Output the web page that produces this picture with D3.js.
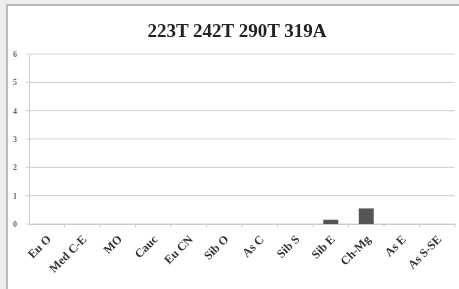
<!DOCTYPE html>
<html>
<head>
<meta charset="utf-8">
<script src="https://cdn.jsdelivr.net/npm/d3@7"></script>
<style>
  body { margin: 0; background: #fff; }
  svg { display: block; filter: blur(0.7px); }
</style>
</head>
<body>
<div class="container"></div>
<script>
// Data
const categories = ['Eu O', 'Med C-E', 'MO', 'Cauc', 'Eu CN', 'Sib O', 'As C', 'Sib S', 'Sib E', 'Ch-Mg', 'As E', 'As S-SE'];
const values = [0, 0, 0, 0, 0, 0, 0, 0, 0.15, 0.55, 0, 0];
const yTicks = [0, 1, 2, 3, 4, 5, 6];
const title = '223T 242T 290T 319A';

// Constants
const width = 459;
const height = 289;
const margin = { left: 29, right: 4, top: 54, bottom: 65 };

const svg = d3
  .select('.container')
  .append('svg')
  .attr('width', width)
  .attr('height', height);

// Frame around chart
svg.append('rect').attr('x', 0).attr('y', 0).attr('width', width).attr('height', height).attr('fill', '#eeeeee');
svg
  .append('rect')
  .attr('x', 7)
  .attr('y', 5)
  .attr('width', width)
  .attr('height', height)
  .attr('fill', '#fff')
  .attr('stroke', '#a8a8a8')
  .attr('stroke-width', 1.5);

// Title
svg
  .append('text')
  .attr('x', 237)
  .attr('y', 37)
  .attr('text-anchor', 'middle')
  .style('font-family', '"Liberation Serif", serif')
  .style('font-weight', 'bold')
  .style('font-size', '19px')
  .attr('fill', '#222')
  .text(title);

// Scales
const x = d3
  .scaleBand()
  .domain(categories)
  .range([margin.left, width - margin.right]);

const y = d3
  .scaleLinear()
  .domain([0, 6])
  .range([height - margin.bottom, margin.top]);

// Gridlines
svg
  .append('g')
  .selectAll('line')
  .data(yTicks)
  .enter()
  .append('line')
  .attr('x1', margin.left - 3)
  .attr('x2', width - margin.right)
  .attr('y1', (d) => y(d))
  .attr('y2', (d) => y(d))
  .attr('stroke', '#d6d6d6')
  .attr('stroke-width', 1.2);

// Y axis
const yAxis = d3.axisLeft(y).tickValues(yTicks).tickFormat(d3.format('d')).tickSize(0).tickPadding(12);
svg
  .append('g')
  .attr('transform', `translate(${margin.left},0)`)
  .call(yAxis)
  .call((g) => g.select('.domain').attr('stroke', '#d0d0d0'))
  .selectAll('text')
  .style('font-family', '"Liberation Serif", serif')
  .style('font-weight', 'bold')
  .style('font-size', '8px')
  .attr('fill', '#666');

// Bars
svg
  .append('g')
  .selectAll('rect')
  .data(values)
  .enter()
  .append('rect')
  .attr('x', (d, i) => x(categories[i]) + x.bandwidth() / 2 - 7.5)
  .attr('y', (d) => y(d))
  .attr('width', 15)
  .attr('height', (d) => y(0) - y(d))
  .attr('fill', '#555');

// X axis
const xAxis = d3.axisBottom(x).tickSize(0).tickFormat('');
const gx = svg
  .append('g')
  .attr('transform', `translate(0,${y(0)})`)
  .call(xAxis);
gx.select('.domain').attr('stroke', '#c8c8c8').attr('stroke-width', 1.2);

// Tick marks at band boundaries
svg
  .append('g')
  .selectAll('line')
  .data(categories)
  .enter()
  .append('line')
  .attr('x1', (d) => x(d) + x.bandwidth())
  .attr('x2', (d) => x(d) + x.bandwidth())
  .attr('y1', y(0))
  .attr('y2', y(0) + 3)
  .attr('stroke', '#c8c8c8');

// Category labels, rotated
svg
  .append('g')
  .selectAll('text')
  .data(categories)
  .enter()
  .append('text')
  .attr('transform', (d) => `translate(${x(d) + x.bandwidth() / 2 + 5},${y(0) + 16}) rotate(-45)`)
  .attr('text-anchor', 'end')
  .style('font-family', '"Liberation Serif", serif')
  .style('font-weight', 'bold')
  .style('font-size', '12px')
  .attr('fill', '#333')
  .text((d) => d);
</script>
</body>
</html>
